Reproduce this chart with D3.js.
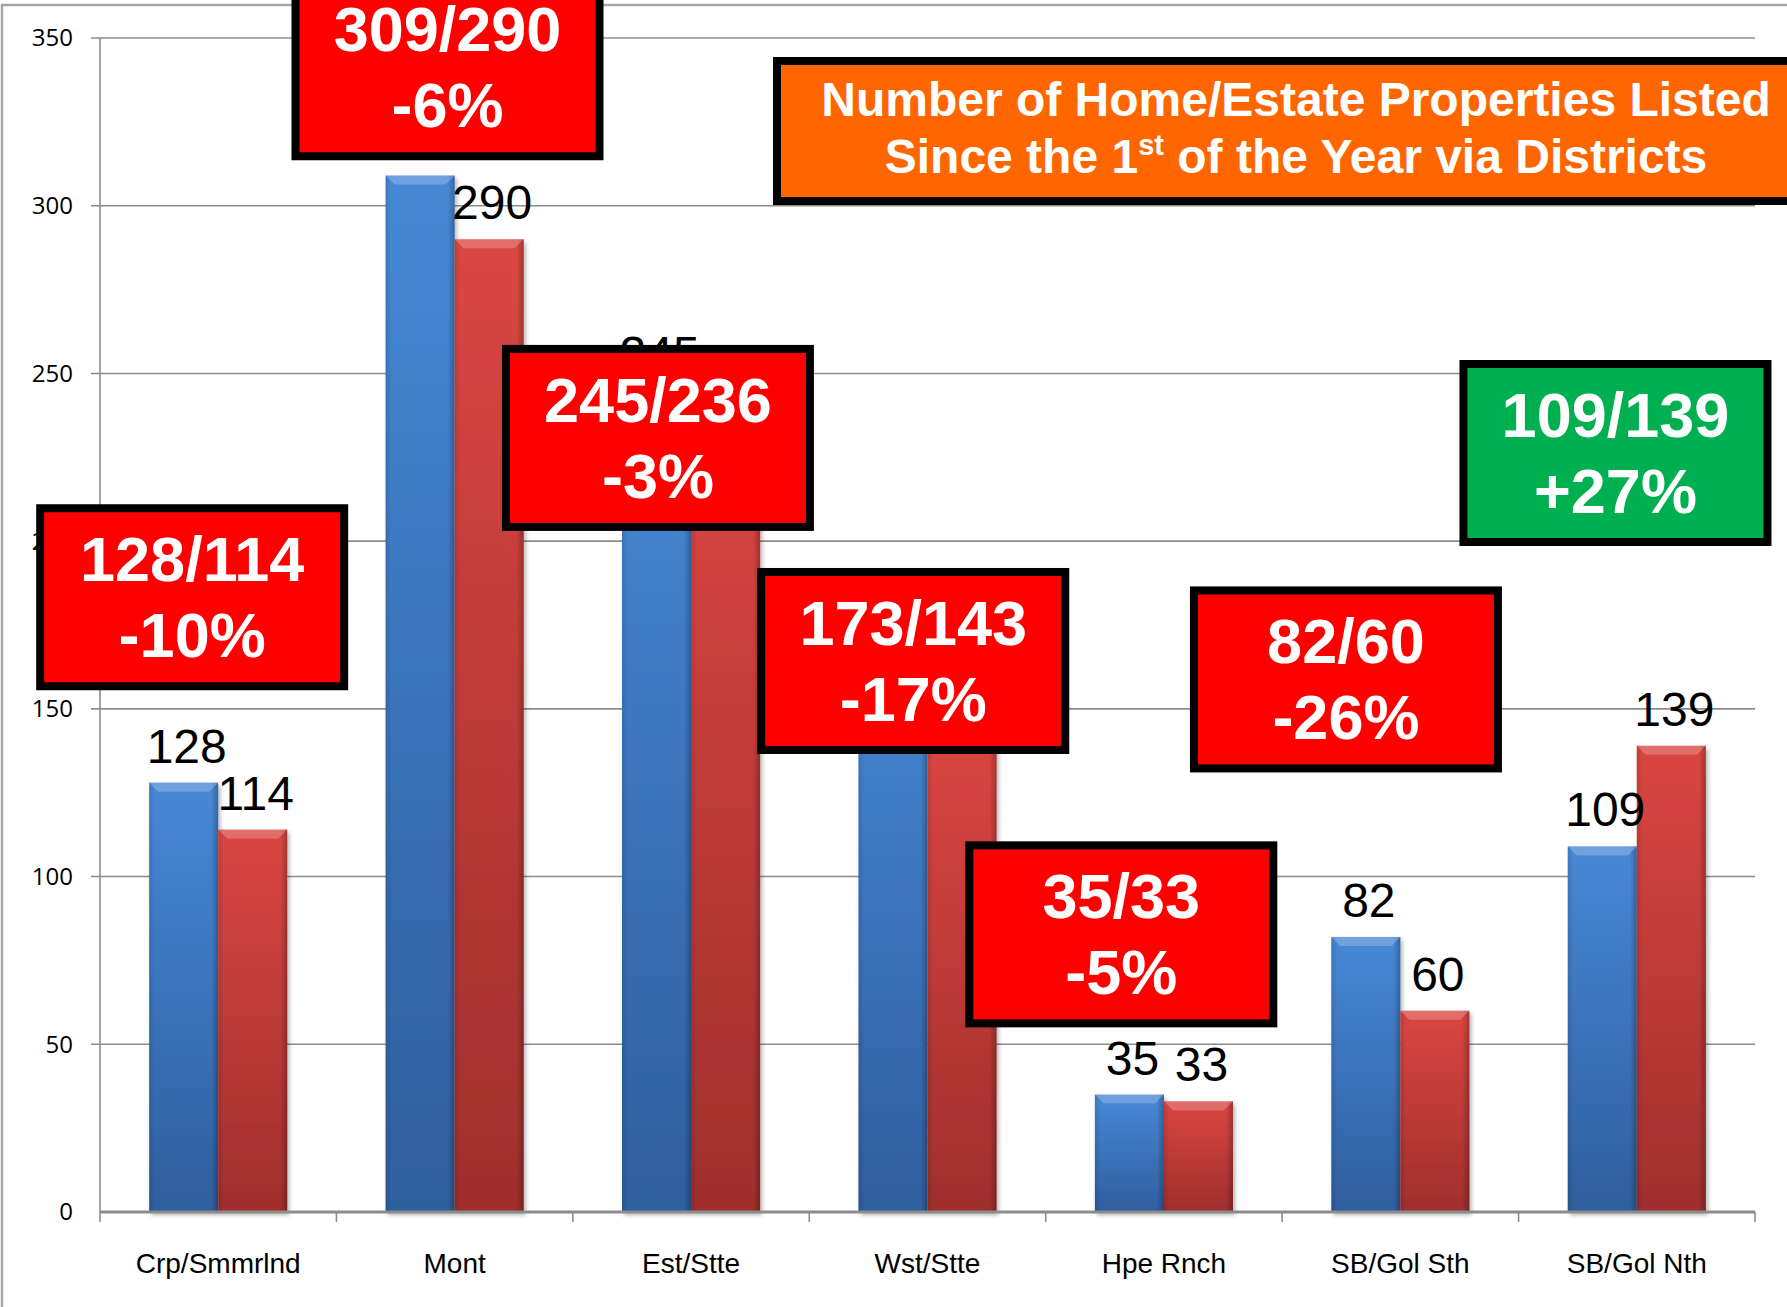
<!DOCTYPE html>
<html>
<head>
<meta charset="utf-8">
<script src="https://cdn.jsdelivr.net/npm/d3@7"></script>
<style>
  html, body { margin: 0; padding: 0; background: #fff; }
  svg { display: block; }
</style>
</head>
<body>
<div id="chart"></div>
<script>
// districts and listings (previous year / this year)
const categories = ['Crp/Smmrlnd', 'Mont', 'Est/Stte', 'Wst/Stte', 'Hpe Rnch', 'SB/Gol Sth', 'SB/Gol Nth'];
const prevYear = [128, 309, 245, 173, 35, 82, 109];
const currYear = [114, 290, 236, 143, 33, 60, 139];
const pctChange = ['-10%', '-6%', '-3%', '-17%', '-5%', '-26%', '+27%'];
const yTicks = [0, 50, 100, 150, 200, 250, 300, 350];

// call-out boxes: left edge in category units, top edge in value units
const noteX = [-0.27, 0.81, 1.70, 2.78, 3.66, 4.61, 5.75];
const noteTop = [211, 369, 258.5, 192, 110.5, 186.5, 254];

const W = 1787, H = 1307;
const margin = { left: 100, right: 32, top: 38, bottom: 95 };
const FONT = '"Liberation Sans", Arial, Helvetica, sans-serif';

const svg = d3.select('#chart').append('svg')
    .attr('width', W)
    .attr('height', H);

const defs = svg.append('defs');

// bar gradients
function vGrad(id, top, bottom) {
    const g = defs.append('linearGradient').attr('id', id)
        .attr('x1', 0).attr('y1', 0).attr('x2', 0).attr('y2', 1);
    g.append('stop').attr('offset', '0%').attr('stop-color', top);
    g.append('stop').attr('offset', '100%').attr('stop-color', bottom);
}
vGrad('gBlue', '#4788d6', '#2f5e9e');
vGrad('gRed', '#da4642', '#9f2e2c');

const side = defs.append('linearGradient').attr('id', 'gSide')
    .attr('x1', 0).attr('y1', 0).attr('x2', 1).attr('y2', 0);
side.append('stop').attr('offset', '0%').attr('stop-color', '#000').attr('stop-opacity', 0.12);
side.append('stop').attr('offset', '8%').attr('stop-color', '#000').attr('stop-opacity', 0);
side.append('stop').attr('offset', '90%').attr('stop-color', '#000').attr('stop-opacity', 0);
side.append('stop').attr('offset', '100%').attr('stop-color', '#000').attr('stop-opacity', 0.25);

const shadow = defs.append('filter').attr('id', 'shadow')
    .attr('x', '-10%').attr('y', '-10%').attr('width', '130%').attr('height', '130%');
shadow.append('feDropShadow').attr('dx', 2).attr('dy', 3)
    .attr('stdDeviation', 2).attr('flood-color', '#000').attr('flood-opacity', 0.3);

// scales
const x0 = d3.scaleBand()
    .domain(categories)
    .range([margin.left, W - margin.right])
    .paddingInner(0.416)
    .paddingOuter(0.208);

const x1 = d3.scaleBand()
    .domain(['prev', 'curr'])
    .range([0, x0.bandwidth()]);

const y = d3.scaleLinear()
    .domain([0, 350])
    .range([H - margin.bottom, margin.top]);

const xUnit = d3.scaleLinear()
    .domain([0, categories.length])
    .range([margin.left, W - margin.right]);

// chart area frame (only top/left visible)
svg.append('rect')
    .attr('x', 2).attr('y', 5)
    .attr('width', W + 20).attr('height', H + 20)
    .attr('fill', 'none')
    .attr('stroke', '#a6a6a6')
    .attr('stroke-width', 2.5);

// gridlines
svg.append('g')
    .selectAll('line')
    .data(yTicks.filter(d => d > 0))
    .join('line')
    .attr('x1', margin.left - 9)
    .attr('x2', W - margin.right)
    .attr('y1', d => y(d))
    .attr('y2', d => y(d))
    .attr('stroke', '#8c8c8c')
    .attr('stroke-width', 1.6);

// y axis line
svg.append('line')
    .attr('x1', margin.left).attr('x2', margin.left)
    .attr('y1', y(350)).attr('y2', y(0))
    .attr('stroke', '#8c8c8c')
    .attr('stroke-width', 1.6);

// y tick labels
svg.append('g')
    .selectAll('text')
    .data(yTicks)
    .join('text')
    .attr('x', 73)
    .attr('y', d => y(d))
    .attr('dy', '0.35em')
    .attr('text-anchor', 'end')
    .attr('font-family', '"Open Sans", "DejaVu Sans", sans-serif')
    .attr('font-size', 24)
    .attr('fill', '#000')
    .text(d => d);

// bars
const rows = categories.map((c, i) => ({ cat: c, prev: prevYear[i], curr: currYear[i] }));
const barData = d => [{ key: 'prev', v: d.prev }, { key: 'curr', v: d.curr }];

const groups = svg.append('g')
    .selectAll('g')
    .data(rows)
    .join('g')
    .attr('transform', d => `translate(${x0(d.cat)},0)`);

const bars = groups.selectAll('g.bar')
    .data(barData)
    .join('g')
    .attr('class', 'bar');

bars.append('rect')
    .attr('x', d => x1(d.key))
    .attr('y', d => y(d.v))
    .attr('width', x1.bandwidth())
    .attr('height', d => y(0) - y(d.v))
    .attr('fill', d => d.key === 'prev' ? 'url(#gBlue)' : 'url(#gRed)')
    .attr('filter', 'url(#shadow)');

bars.append('rect')
    .attr('x', d => x1(d.key))
    .attr('y', d => y(d.v))
    .attr('width', x1.bandwidth())
    .attr('height', d => y(0) - y(d.v))
    .attr('fill', 'url(#gSide)');

// top bevel
bars.append('path')
    .attr('d', d => {
        const bx = x1(d.key), bw = x1.bandwidth(), by = y(d.v), b = 9;
        return `M${bx},${by}L${bx + bw},${by}L${bx + bw - b},${by + b}L${bx + b},${by + b}Z`;
    })
    .attr('fill', '#fff')
    .attr('fill-opacity', 0.22);

// x axis line + ticks
svg.append('line')
    .attr('x1', margin.left).attr('x2', W - margin.right)
    .attr('y1', y(0)).attr('y2', y(0))
    .attr('stroke', '#8c8c8c')
    .attr('stroke-width', 3);

svg.append('g')
    .selectAll('line')
    .data(d3.range(categories.length + 1))
    .join('line')
    .attr('x1', d => xUnit(d)).attr('x2', d => xUnit(d))
    .attr('y1', y(0)).attr('y2', y(0) + 10)
    .attr('stroke', '#8c8c8c')
    .attr('stroke-width', 1.6);

// x labels
svg.append('g')
    .selectAll('text')
    .data(categories)
    .join('text')
    .attr('x', d => x0(d) + x0.bandwidth() / 2)
    .attr('y', 1273)
    .attr('text-anchor', 'middle')
    .attr('font-family', FONT)
    .attr('font-size', 28)
    .attr('fill', '#000')
    .text(d => d);

// value labels, on top of every bar
svg.append('g')
    .selectAll('g')
    .data(rows)
    .join('g')
    .attr('transform', d => `translate(${x0(d.cat)},0)`)
    .selectAll('text')
    .data(barData)
    .join('text')
    .attr('x', d => x1(d.key) + x1.bandwidth() / 2 + 3)
    .attr('y', d => y(d.v) - 20)
    .attr('text-anchor', 'middle')
    .attr('font-family', FONT)
    .attr('font-size', 48)
    .attr('fill', '#000')
    .text(d => d.v);

// call-out boxes
const boxW = 304, boxH = 178;
const notes = svg.append('g')
    .selectAll('g')
    .data(rows)
    .join('g')
    .attr('transform', (d, i) => `translate(${xUnit(noteX[i])},${y(noteTop[i])})`);

notes.append('rect')
    .attr('x', 4).attr('y', 4)
    .attr('width', boxW).attr('height', boxH)
    .attr('fill', (d, i) => pctChange[i].startsWith('+') ? '#00b050' : '#ff0000')
    .attr('stroke', '#000')
    .attr('stroke-width', 8);

notes.append('text')
    .attr('x', 4 + boxW / 2)
    .attr('y', 77)
    .attr('text-anchor', 'middle')
    .attr('font-family', FONT)
    .attr('font-weight', 'bold')
    .attr('font-size', 63)
    .attr('fill', '#fff')
    .text(d => `${d.prev}/${d.curr}`);

notes.append('text')
    .attr('x', 4 + boxW / 2)
    .attr('y', 153)
    .attr('text-anchor', 'middle')
    .attr('font-family', FONT)
    .attr('font-weight', 'bold')
    .attr('font-size', 63)
    .attr('fill', '#fff')
    .text((d, i) => pctChange[i]);

// title box
const title = svg.append('g');
title.append('rect')
    .attr('x', 777).attr('y', 61)
    .attr('width', 1100).attr('height', 140)
    .attr('fill', '#ff6600')
    .attr('stroke', '#000')
    .attr('stroke-width', 8);

title.append('text')
    .attr('x', 1296).attr('y', 116)
    .attr('text-anchor', 'middle')
    .attr('font-family', FONT)
    .attr('font-weight', 'bold')
    .attr('font-size', 48)
    .attr('fill', '#fff')
    .text('Number of Home/Estate Properties Listed');

const t2 = title.append('text')
    .attr('x', 1296).attr('y', 173)
    .attr('text-anchor', 'middle')
    .attr('font-family', FONT)
    .attr('font-weight', 'bold')
    .attr('font-size', 48)
    .attr('fill', '#fff');
t2.append('tspan').text('Since the 1');
t2.append('tspan').attr('font-size', 29).attr('dy', -18).text('st');
t2.append('tspan').attr('dy', 18).text(' of the Year via Districts');
</script>
</body>
</html>
